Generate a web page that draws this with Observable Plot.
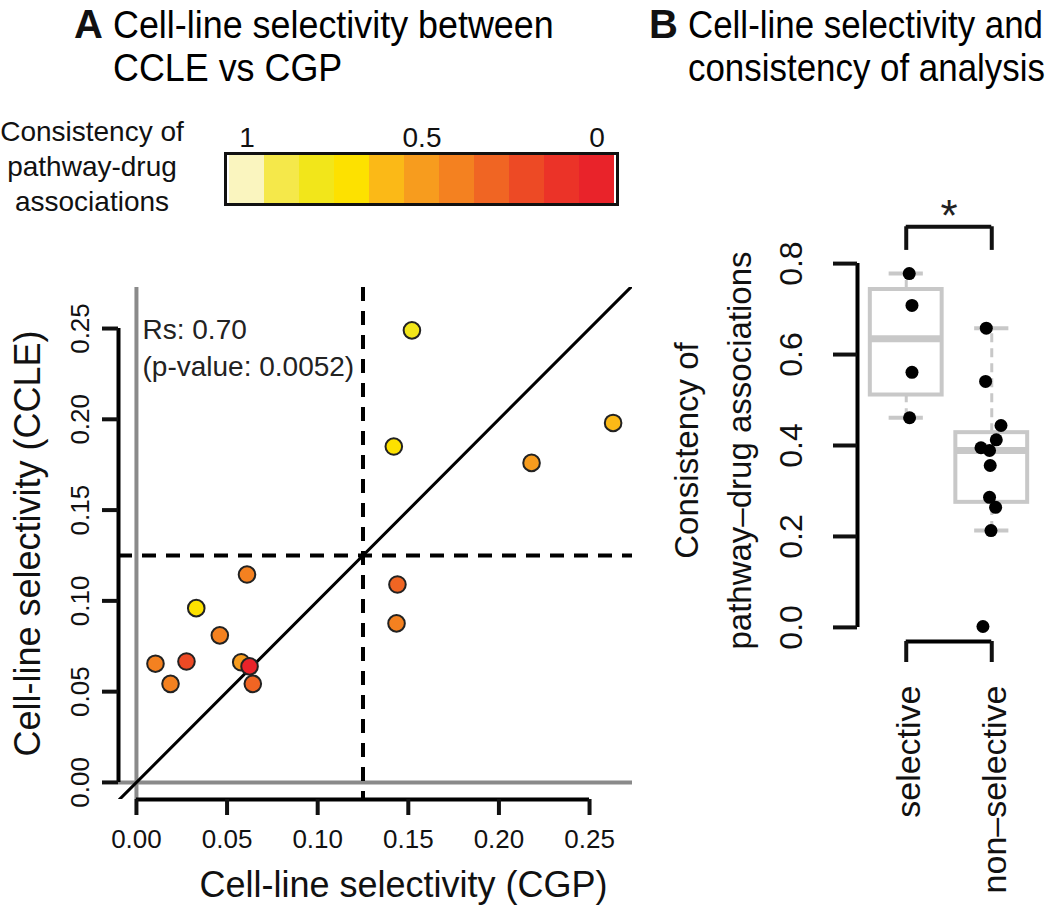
<!DOCTYPE html>
<html><head><meta charset="utf-8">
<script src="https://cdn.jsdelivr.net/npm/d3@7"></script>
<script src="https://cdn.jsdelivr.net/npm/@observablehq/plot@0.6"></script>
<style>
body{margin:0;background:#fff;font-family:"Liberation Sans",Arial,Helvetica,sans-serif;}
#root{position:relative;width:1050px;height:914px;overflow:hidden;background:#fff;}
#root svg{position:absolute;}
.title{position:absolute;font-size:39px;line-height:43px;white-space:nowrap;transform:scaleX(0.92);transform-origin:0 0;color:#000;}
.tag{position:absolute;font-size:40px;line-height:43px;font-weight:bold;color:#111;}
.leg{position:absolute;font-size:28px;line-height:35px;text-align:center;width:190px;color:#111;}
</style></head><body><div id="root"></div>
<script>
// ---------------- data ----------------
const cgp  = [0.152, 0.142, 0.218, 0.263, 0.061, 0.033, 0.046, 0.0105, 0.0276, 0.0578, 0.0624, 0.0188, 0.0642, 0.144, 0.1435];
const ccle = [0.249, 0.185, 0.176, 0.198, 0.1145, 0.096, 0.081, 0.0654, 0.0666, 0.0662, 0.0639, 0.0543, 0.0543, 0.109, 0.0876];
const consistency = [0.778, 0.708, 0.461, 0.561, 0.444, 0.658, 0.4125, 0.395, 0.213, 0.541, 0.002, 0.389, 0.264, 0.286, 0.356];
const jitter = [0.035, 0.067, 0.039, 0.067, 0.108, -0.064, 0.053, -0.126, -0.009, -0.072, -0.103, -0.026, 0.045, -0.026, -0.018];
const selectivityCutoff = 0.125;
const groups = ["selective", "non–selective"];
const xTicks = [0, 0.05, 0.10, 0.15, 0.20, 0.25];
const yTicks = [0, 0.05, 0.10, 0.15, 0.20, 0.25];
const bTicks = [0, 0.2, 0.4, 0.6, 0.8];
const legendLevels = ["1","0.9","0.8","0.7","0.6","0.5","0.4","0.3","0.2","0.1","0"];
const legendLabels = ["1","0.5","0"];
const legendColors = ["#faf5bf","#f5e84a","#f2e61a","#fde100","#fbb917","#f79c1e","#f48120","#f06523","#ed4a25","#eb3328","#e9232a"];
const rsText = "Rs: 0.70";
const pText = "(p-value: 0.0052)";
const sigLabel = "*";

// ---------------- derived ----------------
const pts = cgp.map((c, i) => ({
  cgp: c, ccle: ccle[i], cons: consistency[i], jit: jitter[i],
  grp: (c > selectivityCutoff && ccle[i] > selectivityCutoff) ? 1 : 2
}));
function fivenum(a) {
  const x = a.slice().sort((p, q) => p - q), n = x.length;
  const n4 = Math.floor((n + 3) / 2) / 2;
  return [1, n4, (n + 1) / 2, n + 1 - n4, n].map(v => 0.5 * (x[Math.floor(v) - 1] + x[Math.ceil(v) - 1]));
}
const stats = [1, 2].map(g => {
  const v = pts.filter(d => d.grp === g).map(d => d.cons);
  const [mn, q1, med, q3, mx] = fivenum(v);
  const iqr = q3 - q1;
  const lo = d3.min(v.filter(t => t >= q1 - 1.5 * iqr));
  const hi = d3.max(v.filter(t => t <= q3 + 1.5 * iqr));
  return {g, q1, med, q3, lo, hi};
});

const font = `"Liberation Sans", Arial, Helvetica, sans-serif`;
const root = document.getElementById("root");

// palette as threshold scale: 0 -> red ... 1 -> pale
const thresholds = d3.range(0.05, 1.0, 0.1).map(d => +d.toFixed(2));
const colorRange = legendColors.slice().reverse();

// ---------------- Panel A ----------------
const xDomain = [-0.0099, 0.2737];
const yDomain = [-0.0094, 0.2726];
const dash = "14,10";
const panelA = Plot.plot({
  width: 660, height: 914,
  marginLeft: 118, marginRight: 28, marginTop: 287, marginBottom: 115,
  x: {domain: xDomain},
  y: {domain: yDomain},
  color: {type: "threshold", domain: thresholds, range: colorRange},
  style: {fontFamily: font, background: "transparent", overflow: "visible", color: "#111"},
  marks: [
    Plot.ruleX([0], {stroke: "#8a8a8a", strokeWidth: 4}),
    Plot.ruleY([0], {stroke: "#8a8a8a", strokeWidth: 4}),
    Plot.ruleX([selectivityCutoff], {stroke: "#000", strokeWidth: 4, strokeDasharray: dash}),
    Plot.ruleY([selectivityCutoff], {stroke: "#000", strokeWidth: 4, strokeDasharray: dash}),
    Plot.line([xDomain[0], xDomain[1]], {x: d => d, y: d => d, stroke: "#000", strokeWidth: 3, clip: true}),
    Plot.dot(pts, {x: "cgp", y: "ccle", fill: "cons", r: 8.3, stroke: "#222", strokeWidth: 2}),
    // axes (R style)
    Plot.ruleY([yDomain[0]], {x1: xTicks[0], x2: xTicks[xTicks.length - 1], stroke: "#000", strokeWidth: 4}),
    Plot.ruleX([xDomain[0]], {y1: yTicks[0], y2: yTicks[yTicks.length - 1], stroke: "#000", strokeWidth: 4}),
    Plot.axisX({ticks: xTicks, tickSize: 16, tickPadding: 14, strokeWidth: 4, fontSize: 26,
      tickFormat: d => d.toFixed(2), label: null}),
    Plot.axisY({ticks: yTicks, tickSize: 16, strokeWidth: 4, tickFormat: () => "", label: null}),
    Plot.text(yTicks, {y: d => d, frameAnchor: "left", rotate: -90, dx: -38, fontSize: 26,
      text: d => d.toFixed(2), textAnchor: "middle", lineAnchor: "middle", fill: "#111"}),
    Plot.text(["Cell-line selectivity (CCLE)"], {frameAnchor: "left", rotate: -90, dx: -90, fontSize: 36,
      textAnchor: "middle", lineAnchor: "middle", fill: "#111"}),
    Plot.text(["Cell-line selectivity (CGP)"], {frameAnchor: "bottom", dy: 86, dx: 28, fontSize: 36,
      textAnchor: "middle", lineAnchor: "middle", fill: "#111"}),
    Plot.text([rsText + "\n" + pText], {frameAnchor: "top-left", dx: 24, dy: 26, lineAnchor: "top",
      textAnchor: "start", fontSize: 28, lineHeight: 1.3, fill: "#222"})
  ]
});
panelA.style.left = "0px"; panelA.style.top = "0px";
root.appendChild(panelA);

// ---------------- Colour legend ----------------
const legend = Plot.plot({
  width: 430, height: 120,
  marginLeft: 15, marginRight: 23, marginTop: 53, marginBottom: 16,
  x: {type: "band", domain: legendLevels, padding: 0},
  style: {fontFamily: font, background: "transparent", overflow: "visible", color: "#111"},
  marks: [
    Plot.cell(legendLevels, {x: d => d, fill: (d, i) => legendColors[i]}),
    Plot.frame({stroke: "#111", strokeWidth: 3}),
    Plot.axisX({anchor: "top", ticks: legendLabels, tickSize: 0, tickPadding: 7, fontSize: 28, label: null})
  ]
});
legend.style.left = "210px"; legend.style.top = "100px";
root.appendChild(legend);

// ---------------- Panel B ----------------
const bx = [0.43, 2.57];
const by = [-0.031, 0.809];
const boxHalf = 0.42, capHalf = 0.2;
const gray = "#c8c8c8";
const sig = {y: 0.881, legBottom: 0.829, star: 0.91};
const panelB = Plot.plot({
  width: 410, height: 914,
  marginLeft: 217, marginRight: 10, marginTop: 259, marginBottom: 273,
  x: {domain: bx},
  y: {domain: by},
  style: {fontFamily: font, background: "transparent", overflow: "visible", color: "#111"},
  marks: [
    Plot.ruleX(stats, {x: "g", y1: "q3", y2: "hi", stroke: gray, strokeWidth: 3, strokeDasharray: "9,6"}),
    Plot.ruleX(stats, {x: "g", y1: "lo", y2: "q1", stroke: gray, strokeWidth: 3, strokeDasharray: "9,6"}),
    Plot.ruleY(stats, {y: "hi", x1: d => d.g - capHalf, x2: d => d.g + capHalf, stroke: gray, strokeWidth: 4}),
    Plot.ruleY(stats, {y: "lo", x1: d => d.g - capHalf, x2: d => d.g + capHalf, stroke: gray, strokeWidth: 4}),
    Plot.rect(stats, {x1: d => d.g - boxHalf, x2: d => d.g + boxHalf, y1: "q1", y2: "q3", fill: "#fff", stroke: gray, strokeWidth: 4}),
    Plot.ruleY(stats, {y: "med", x1: d => d.g - boxHalf, x2: d => d.g + boxHalf, stroke: gray, strokeWidth: 7}),
    Plot.dot(pts, {x: d => d.grp + d.jit, y: "cons", r: 6.5, fill: "#000"}),
    // y axis
    Plot.ruleX([bx[0]], {y1: bTicks[0], y2: bTicks[bTicks.length - 1], stroke: "#000", strokeWidth: 4}),
    Plot.axisY({ticks: bTicks, tickSize: 24, strokeWidth: 4, tickFormat: () => "", label: null}),
    Plot.text(bTicks, {y: d => d, frameAnchor: "left", rotate: -90, dx: -66, fontSize: 32,
      text: d => d.toFixed(1), textAnchor: "middle", lineAnchor: "middle", fill: "#111"}),
    Plot.text(["Consistency of"], {frameAnchor: "left", rotate: -90, dx: -170, fontSize: 33,
      textAnchor: "middle", lineAnchor: "middle", fill: "#111"}),
    Plot.text(["pathway–drug associations"], {frameAnchor: "left", rotate: -90, dx: -117, fontSize: 33,
      textAnchor: "middle", lineAnchor: "middle", fill: "#111"}),
    // x axis bracket
    Plot.ruleY([by[0]], {x1: 1, x2: 2, stroke: "#000", strokeWidth: 4}),
    Plot.axisX({ticks: [1, 2], tickSize: 21, strokeWidth: 4, tickFormat: () => "", label: null}),
    Plot.text(groups, {x: (d, i) => i + 1, frameAnchor: "bottom", rotate: -90, dy: 44, dx: 3,
      textAnchor: "end", lineAnchor: "middle", fontSize: 34, fill: "#111"}),
    // significance bracket
    Plot.ruleY([sig.y], {x1: 1, x2: 2, stroke: "#111", strokeWidth: 4}),
    Plot.ruleX([1, 2], {x: d => d, y1: sig.legBottom, y2: sig.y, stroke: "#111", strokeWidth: 4}),
    Plot.text([sigLabel], {x: 1.5, y: sig.star, fontSize: 44, lineAnchor: "top", dy: -14, fill: "#222"})
  ]
});
panelB.style.left = "640px"; panelB.style.top = "0px";
root.appendChild(panelB);

// ---------------- Titles (HTML) ----------------
function addDiv(cls, text, left, top, sx) {
  const d = document.createElement("div");
  d.className = cls; d.style.left = left + "px"; d.style.top = top + "px";
  if (sx) d.style.transform = `scaleX(${sx})`;
  d.innerHTML = text; root.appendChild(d); return d;
}
addDiv("tag", "A", 74, 3);
addDiv("title", "Cell-line selectivity between<br>CCLE vs CGP", 113, 3, 0.92);
addDiv("tag", "B", 649, 3);
addDiv("title", "Cell-line selectivity and<br>consistency of analysis", 688, 3, 0.895);
addDiv("leg", "Consistency of<br>pathway-drug<br>associations", -3, 114);
</script></body></html>
